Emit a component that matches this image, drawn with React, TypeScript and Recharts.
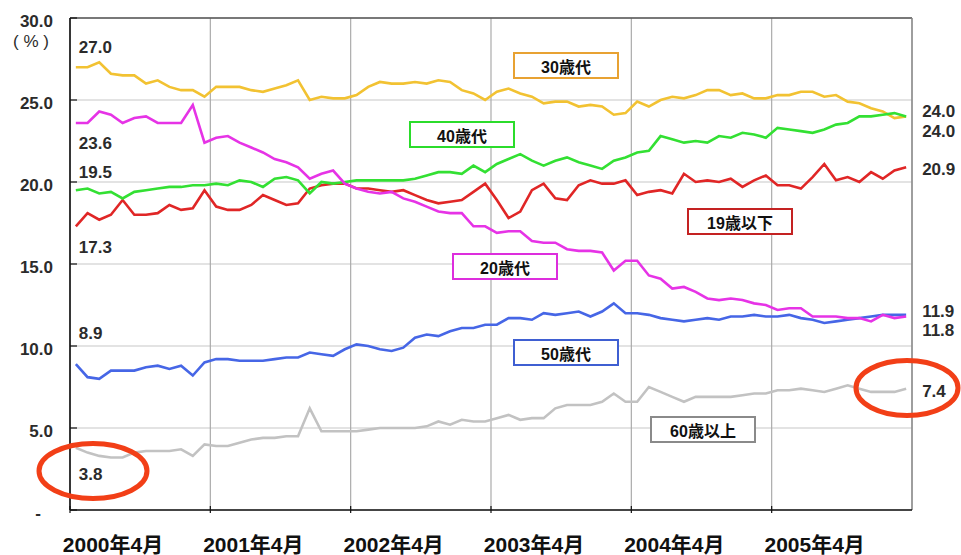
import React from 'react';
import { CartesianGrid, LabelList, Line, LineChart, ReferenceLine, XAxis, YAxis } from 'recharts';

// Monthly share by age group (%), April 2000 through March 2006
const yearLabels = ['2000年4月', '2001年4月', '2002年4月', '2003年4月', '2004年4月', '2005年4月'];

const thirties = [
  27.0, 27.0, 27.3, 26.6, 26.5, 26.5, 26.0, 26.2, 25.8, 25.6, 25.6, 25.2,
  25.8, 25.8, 25.8, 25.6, 25.5, 25.7, 25.9, 26.2, 25.0, 25.2, 25.1, 25.1,
  25.3, 25.8, 26.1, 26.0, 26.0, 26.1, 26.0, 26.2, 26.1, 25.6, 25.4, 25.0,
  25.5, 25.7, 25.4, 25.2, 24.8, 24.9, 24.9, 24.6, 24.7, 24.6, 24.1, 24.2,
  24.9, 24.6, 25.0, 25.2, 25.1, 25.3, 25.6, 25.6, 25.3, 25.4, 25.1, 25.1,
  25.3, 25.3, 25.5, 25.5, 25.2, 25.3, 24.9, 24.8, 24.5, 24.3, 23.9, 24.0,
];

const forties = [
  19.5, 19.6, 19.3, 19.4, 19.0, 19.4, 19.5, 19.6, 19.7, 19.7, 19.8, 19.8,
  19.9, 19.8, 20.1, 20.0, 19.7, 20.2, 20.3, 20.1, 19.3, 20.0, 19.9, 20.0,
  20.1, 20.1, 20.1, 20.1, 20.1, 20.2, 20.4, 20.6, 20.6, 20.5, 21.0, 20.6,
  21.1, 21.4, 21.7, 21.3, 21.0, 21.3, 21.5, 21.2, 21.0, 20.8, 21.3, 21.5,
  21.8, 21.9, 22.8, 22.6, 22.4, 22.5, 22.4, 22.8, 22.7, 23.0, 22.9, 22.7,
  23.3, 23.2, 23.1, 23.0, 23.2, 23.5, 23.6, 24.0, 24.0, 24.1, 24.2, 24.0,
];

const twenties = [
  23.6, 23.6, 24.3, 24.1, 23.6, 23.9, 24.0, 23.6, 23.6, 23.6, 24.7, 22.4,
  22.7, 22.8, 22.4, 22.1, 21.8, 21.4, 21.2, 20.9, 20.2, 20.5, 20.7, 19.9,
  19.6, 19.4, 19.3, 19.4, 19.0, 18.8, 18.5, 18.2, 18.1, 18.1, 17.3, 17.3,
  16.9, 17.0, 17.0, 16.4, 16.3, 16.3, 15.9, 15.8, 15.8, 15.7, 14.6, 15.2,
  15.2, 14.3, 14.1, 13.5, 13.6, 13.3, 12.9, 12.8, 12.9, 12.8, 12.6, 12.5,
  12.2, 12.3, 12.3, 11.8, 11.8, 11.8, 11.7, 11.7, 11.5, 11.9, 11.7, 11.8,
];

const teens = [
  17.3, 18.1, 17.7, 18.0, 18.9, 18.0, 18.0, 18.1, 18.6, 18.3, 18.4, 19.5,
  18.5, 18.3, 18.3, 18.6, 19.2, 18.9, 18.6, 18.7, 19.6, 19.8, 19.9, 19.9,
  19.6, 19.6, 19.5, 19.4, 19.5, 19.2, 18.9, 18.7, 18.8, 18.9, 19.4, 19.9,
  18.9, 17.8, 18.2, 19.5, 19.9, 19.0, 18.9, 19.8, 20.1, 19.9, 19.9, 20.1,
  19.2, 19.4, 19.5, 19.3, 20.5, 20.0, 20.1, 20.0, 20.2, 19.7, 20.1, 20.4,
  19.8, 19.8, 19.6, 20.3, 21.1, 20.1, 20.3, 20.0, 20.6, 20.2, 20.7, 20.9,
];

const fifties = [
  8.9, 8.1, 8.0, 8.5, 8.5, 8.5, 8.7, 8.8, 8.6, 8.8, 8.2, 9.0,
  9.2, 9.2, 9.1, 9.1, 9.1, 9.2, 9.3, 9.3, 9.6, 9.5, 9.4, 9.8,
  10.1, 10.0, 9.8, 9.7, 9.9, 10.5, 10.7, 10.6, 10.9, 11.1, 11.1, 11.3,
  11.3, 11.7, 11.7, 11.6, 12.0, 11.9, 12.0, 12.1, 11.8, 12.1, 12.6, 12.0,
  12.0, 11.9, 11.7, 11.6, 11.5, 11.6, 11.7, 11.6, 11.8, 11.8, 11.9, 11.8,
  11.8, 11.9, 11.7, 11.6, 11.4, 11.5, 11.6, 11.7, 11.8, 11.9, 11.9, 11.9,
];

const sixtiesPlus = [
  3.8, 3.5, 3.3, 3.2, 3.2, 3.5, 3.6, 3.6, 3.6, 3.7, 3.3, 4.0,
  3.9, 3.9, 4.1, 4.3, 4.4, 4.4, 4.5, 4.5, 6.2, 4.8, 4.8, 4.8,
  4.8, 4.9, 5.0, 5.0, 5.0, 5.0, 5.1, 5.4, 5.2, 5.5, 5.4, 5.4,
  5.6, 5.8, 5.5, 5.6, 5.6, 6.2, 6.4, 6.4, 6.4, 6.6, 7.1, 6.6,
  6.6, 7.5, 7.2, 6.9, 6.6, 6.9, 6.9, 6.9, 6.9, 7.0, 7.1, 7.1,
  7.3, 7.3, 7.4, 7.3, 7.2, 7.4, 7.6, 7.4, 7.2, 7.2, 7.2, 7.4,
];

const yTicks = [0, 5, 10, 15, 20, 25, 30];

const LAST = thirties.length - 1;

const rows = thirties.map((_, i) => ({
  idx: i,
  thirties: thirties[i],
  forties: forties[i],
  twenties: twenties[i],
  teens: teens[i],
  fifties: fifties[i],
  sixtiesPlus: sixtiesPlus[i],
}));

// one gridline per April, plus the right edge of the plot
const xTicks = [...yearLabels.map((_, k) => k * 12 - 0.5), LAST + 0.5];

const W = 961;
const H = 555;
const TOP = 18;
const LEFT = 70;
const BOTTOM = 510;

const NUM_FONT = '"Liberation Sans", Arial, "Noto Sans CJK JP", sans-serif';
const TEXT = '#2b2b2b';

// draw order, colours and where each end value sits relative to its point
const SERIES = [
  { key: 'sixtiesPlus', color: '#c2c2c2', startDy: 32, endDy: 8 },
  { key: 'fifties', color: '#4666e6', startDy: -25, endDy: 2 },
  { key: 'thirties', color: '#f2c232', startDy: -14, endDy: 1 },
  { key: 'teens', color: '#e02626', startDy: 27, endDy: 8 },
  { key: 'forties', color: '#33e033', startDy: -12, endDy: 21 },
  { key: 'twenties', color: '#e633e6', startDy: 26, endDy: 20 },
];

const BOXES = [
  { text: '30歳代', color: '#e8a232', left: 513, top: 52 },
  { text: '40歳代', color: '#2bdc2b', left: 409, top: 121 },
  { text: '19歳以下', color: '#c42222', left: 687, top: 208 },
  { text: '20歳代', color: '#dd2edd', left: 452, top: 253 },
  { text: '50歳代', color: '#3f5fd2', left: 513, top: 339 },
  { text: '60歳以上', color: '#8a8a8a', left: 650, top: 416 },
];

function edgeLabel(startDy: number, endDy: number) {
  return (props: any) => {
    const { x, y, index, value } = props;
    if (index !== 0 && index !== LAST) return null;
    const first = index === 0;
    return (
      <text
        x={first ? x + 3 : x + 16}
        y={y + (first ? startDy : endDy)}
        fill={TEXT}
        fontSize={17}
        fontWeight="bold"
        fontFamily={NUM_FONT}
      >
        {Number(value).toFixed(1)}
      </text>
    );
  };
}

function XTick(props: any) {
  const { x, payload } = props;
  const k = Math.round((payload.value + 0.5) / 12);
  if (k >= yearLabels.length) return null;
  return (
    <g>
      <line x1={x} x2={x} y1={BOTTOM - 4} y2={BOTTOM + 3} stroke="#111" strokeWidth={1.2} />
      <text
        x={x + 43}
        y={552}
        textAnchor="middle"
        fill="#111"
        fontSize={21}
        fontWeight="bold"
        fontFamily={NUM_FONT}
      >
        {yearLabels[k]}
      </text>
    </g>
  );
}

function YTick(props: any) {
  const { y, payload } = props;
  const v = payload.value as number;
  return (
    <g>
      <line x1={LEFT} x2={LEFT + 7} y1={y} y2={y} stroke="#111" strokeWidth={1.2} />
      <text
        x={v === 0 ? 41 : 53}
        y={y + 3}
        dominantBaseline="central"
        textAnchor="end"
        fill={TEXT}
        fontSize={17}
        fontWeight="bold"
        fontFamily={NUM_FONT}
      >
        {v === 0 ? '-' : v.toFixed(1)}
      </text>
      {v === 30 && (
        <text x={13} y={47} fill={TEXT} fontSize={17} fontFamily={NUM_FONT} xmlSpace="preserve">
          ( % )
        </text>
      )}
    </g>
  );
}

export default function App() {
  return (
    <div style={{ position: 'absolute', left: 0, top: 0, width: W, height: H, background: '#fff' }}>
      <LineChart width={W} height={H} data={rows} margin={{ top: TOP, right: W - 912, bottom: 0, left: 0 }}>
        <CartesianGrid vertical={false} stroke="#c8c8c8" strokeWidth={1.2} />
        <CartesianGrid horizontal={false} stroke="#ababab" strokeWidth={1.2} />
        <XAxis
          dataKey="idx"
          type="number"
          domain={[-0.5, LAST + 0.5]}
          ticks={xTicks}
          interval={0}
          height={H - BOTTOM}
          axisLine={{ stroke: '#111', strokeWidth: 1.6 }}
          tickLine={false}
          tick={XTick}
        />
        <YAxis
          type="number"
          domain={[0, 30]}
          ticks={yTicks}
          interval={0}
          width={LEFT}
          axisLine={{ stroke: '#111', strokeWidth: 1.6 }}
          tickLine={false}
          tick={YTick}
        />
        <ReferenceLine y={30} stroke="#555" strokeWidth={1.4} />
        <ReferenceLine x={LAST + 0.5} stroke="#8a8a8a" strokeWidth={1.4} />
        {SERIES.map((s) => (
          <Line
            key={s.key}
            dataKey={s.key}
            type="linear"
            stroke={s.color}
            strokeWidth={2.6}
            dot={false}
            activeDot={false}
            isAnimationActive={false}
          >
            <LabelList dataKey={s.key} content={edgeLabel(s.startDy, s.endDy)} />
          </Line>
        ))}
      </LineChart>

      {BOXES.map((b) => (
        <div
          key={b.text}
          style={{
            position: 'absolute',
            left: b.left,
            top: b.top,
            width: 106,
            height: 27,
            boxSizing: 'border-box',
            border: `2.5px solid ${b.color}`,
            background: '#fff',
            display: 'flex',
            alignItems: 'center',
            justifyContent: 'center',
            fontFamily: NUM_FONT,
            fontWeight: 'bold',
            fontSize: 16,
            color: '#111',
          }}
        >
          {b.text}
        </div>
      ))}

      <svg width={W} height={H} style={{ position: 'absolute', left: 0, top: 0, pointerEvents: 'none' }}>
        <ellipse cx={93} cy={471} rx={54} ry={27.5} fill="none" stroke="#f23f17" strokeWidth={5} />
        <ellipse cx={907} cy={388} rx={51} ry={27.5} fill="none" stroke="#f23f17" strokeWidth={5} />
      </svg>
    </div>
  );
}
